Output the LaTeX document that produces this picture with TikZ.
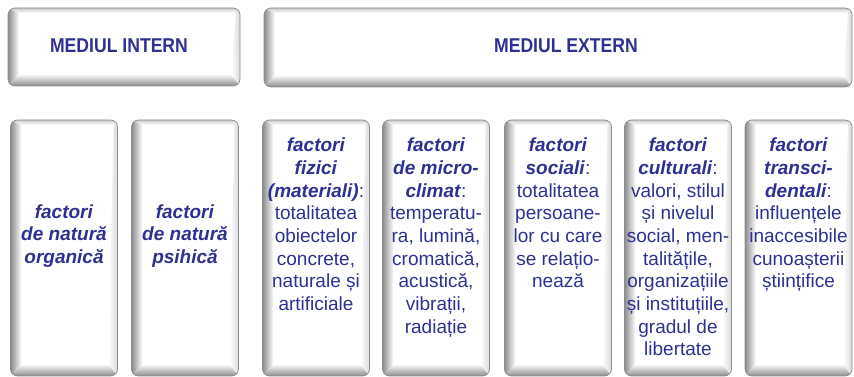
\documentclass[tikz,border=0pt]{standalone}
\usepackage{fontspec}
\setmainfont{Liberation Sans}
\newfontfamily\headfont[FakeStretch=0.88]{Liberation Sans}
\usetikzlibrary{positioning}
\definecolor{inkblue}{RGB}{46,49,146}

\tikzset{
	btn/.style={draw=black!45, line width=0.7pt, rounded corners=7pt, fill=white, inner sep=0pt,
		path picture={
			\coordinate (bsw) at (path picture bounding box.south west);
			\coordinate (bnw) at (path picture bounding box.north west);
			\coordinate (bse) at (path picture bounding box.south east);
			\coordinate (bne) at (path picture bounding box.north east);
			\shade[sharp corners, left color=black!45, right color=white] (bsw) -- (bnw) -- ([shift={(11pt,-5pt)}]bnw) -- ([shift={(11pt,12pt)}]bsw) -- cycle;
			\shade[sharp corners, top color=white, bottom color=black!45] (bsw) -- ([shift={(11pt,12pt)}]bsw) -- ([shift={(-9pt,12pt)}]bse) -- (bse) -- cycle;
			\shade[sharp corners, top color=black!20, bottom color=white] (bnw) -- ([shift={(11pt,-5pt)}]bnw) -- ([shift={(-4pt,-5pt)}]bne) -- (bne) -- cycle;
			\shade[sharp corners, left color=white, right color=black!15] ([shift={(-4pt,-5pt)}]bne) -- (bne) -- (bse) -- ([shift={(-9pt,12pt)}]bse) -- cycle;
		}},
	colbox/.style={btn, minimum width=107pt, minimum height=256pt},
	headtxt/.style={text=inkblue, inner sep=0pt, font=\headfont\fontsize{20}{24}\bfseries\selectfont},
	coltxt/.style={text=inkblue, align=center, inner sep=0pt, font=\fontsize{19}{22.7}\selectfont},
}
\newcommand{\fct}[1]{\textbf{\textit{#1}}}

\begin{document}
\begin{tikzpicture}[x=1pt,y=1pt]
	\useasboundingbox (0,0) rectangle (854,377);
	% upper row
	\node[btn, minimum width=232pt, minimum height=78pt] (intern) at (124,330) {};
	\node[btn, minimum width=588pt, minimum height=79pt] (extern) at (558,329.5) {};
	\node[headtxt] (interntxt) at ([shift={(-5pt,1pt)}]intern.center) {MEDIUL INTERN};
	\node[headtxt] (externtxt) at ([shift={(8pt,2pt)}]extern.center) {MEDIUL EXTERN};
	
	% lower row
	\node[colbox] (org) at (64,129) {};
	\node[colbox] (psi) at (185,129) {};
	\node[colbox] (fiz) at (316,129) {};
	\node[colbox] (clim) at (436,129) {};
	\node[colbox] (soc) at (558,129) {};
	\node[colbox] (cult) at (678,129) {};
	\node[colbox] (trans) at (798.5,129) {};
	
	\node[coltxt] (orgtxt) at ([yshift=12pt]org.center) {\fct{factori}\\\fct{de natură}\\\fct{organică}};
	\node[coltxt] (psitxt) at ([yshift=12pt]psi.center) {\fct{factori}\\\fct{de natură}\\\fct{psihică}};
	\node[coltxt, anchor=north] (fiztxt) at ([yshift=-18pt]fiz.north) {\fct{factori}\\\fct{fizici}\\\fct{(materiali)}:\\totalitatea\\obiectelor\\concrete,\\naturale și\\artificiale};
	\node[coltxt, anchor=north] (climtxt) at ([yshift=-18pt]clim.north) {\fct{factori}\\\fct{de micro-}\\\fct{climat}:\\temperatu-\\ra, lumină,\\cromatică,\\acustică,\\vibrații,\\radiație};
	\node[coltxt, anchor=north] (soctxt) at ([yshift=-18pt]soc.north) {\fct{factori}\\\fct{sociali}:\\totalitatea\\persoane-\\lor cu care\\se relațio-\\nează};
	\node[coltxt, anchor=north] (culttxt) at ([yshift=-18pt]cult.north) {\fct{factori}\\\fct{culturali}:\\valori, stilul\\și nivelul\\social, men-\\talitățile,\\organizațiile\\și instituțiile,\\gradul de\\libertate};
	\node[coltxt, anchor=north] (transtxt) at ([yshift=-18pt]trans.north) {\fct{factori}\\\fct{transci-}\\\fct{dentali}:\\influențele\\inaccesibile\\cunoașterii\\științifice};
\end{tikzpicture}
\end{document}
